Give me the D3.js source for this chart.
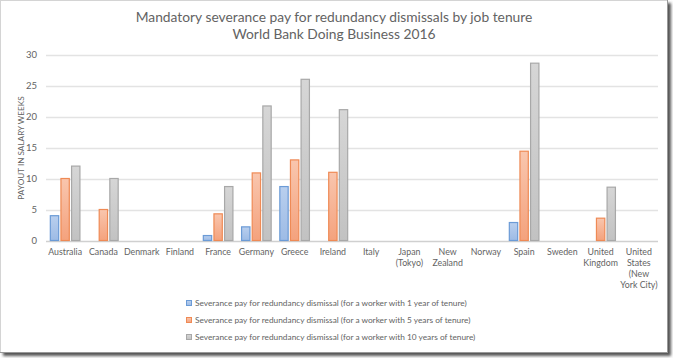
<!DOCTYPE html>
<html><head><meta charset="utf-8">
<script src="https://cdn.jsdelivr.net/npm/d3@7"></script>
<style>html,body{margin:0;padding:0;background:#fff;}svg{display:block;}</style>
</head><body>
<svg id="chart" width="673" height="358"></svg>
<script>
const categories = ["Australia","Canada","Denmark","Finland","France","Germany","Greece","Ireland","Italy","Japan (Tokyo)","New Zealand","Norway","Spain","Sweden","United Kingdom","United States (New York City)"];
const categoryLines = [["Australia"],["Canada"],["Denmark"],["Finland"],["France"],["Germany"],["Greece"],["Ireland"],["Italy"],["Japan","(Tokyo)"],["New","Zealand"],["Norway"],["Spain"],["Sweden"],["United","Kingdom"],["United","States","(New","York City)"]];
const tenure1 = [4,0,0,0,0.8,2.2,8.7,0,0,0,0,0,2.9,0,0,0];
const tenure5 = [10,5,0,0,4.3,10.9,13,11,0,0,0,0,14.4,0,3.6,0];
const tenure10 = [12,10,0,0,8.7,21.7,26,21.1,0,0,0,0,28.6,0,8.6,0];
const seriesNames = ["Severance pay for redundancy dismissal (for a worker with 1 year of tenure)","Severance pay for redundancy dismissal (for a worker with 5 years of tenure)","Severance pay for redundancy dismissal (for a worker with 10 years of tenure)"];
const yTicks = [0,5,10,15,20,25,30];
const titleLines = ["Mandatory severance pay for redundancy dismissals by job tenure","World Bank Doing Business 2016"];
const yLabel = "PAYOUT IN SALARY WEEKS";

const series = [tenure1, tenure5, tenure10];
const strokes = ["#6b9bd6","#ef8a55","#a8a8a8"];
const fillTop = ["#b9cfee","#f9c6ae","#d6d6d6"];
const fillBot = ["#9dbbe5","#f4a27d","#c2c2c2"];
const font = "Lato, 'Open Sans', sans-serif";
const textCol = "#636363";

const svg = d3.select("#chart");
const defs = svg.append("defs");
const f = defs.append("filter").attr("id","sh").attr("x","-5%").attr("y","-5%").attr("width","110%").attr("height","110%");
f.append("feGaussianBlur").attr("stdDeviation",1.5);
series.forEach((s,i)=>{
  const g = defs.append("linearGradient").attr("id","g"+i).attr("x1",0).attr("y1",0).attr("x2",0).attr("y2",1);
  g.append("stop").attr("offset","0%").attr("stop-color",fillTop[i]);
  g.append("stop").attr("offset","100%").attr("stop-color",fillBot[i]);
});

// frame with shadow
svg.append("rect").attr("x",3).attr("y",3).attr("width",668).attr("height",353).attr("fill","#555").attr("filter","url(#sh)");
svg.append("rect").attr("x",0.5).attr("y",0.5).attr("width",667).attr("height",352).attr("fill","#fff").attr("stroke","#d4d4d4");
svg.append("line").attr("x1",667.5).attr("x2",667.5).attr("y1",0).attr("y2",353).attr("stroke","#999");
svg.append("line").attr("x1",0).attr("x2",668).attr("y1",352.5).attr("y2",352.5).attr("stroke","#999");

const x0 = d3.scaleBand().domain(categories).range([46,658]).paddingInner(0.2).paddingOuter(0.1);
const x1 = d3.scaleBand().domain([0,1,2]).range([0,x0.bandwidth()]).paddingInner(0.12);
const y = d3.scaleLinear().domain([0,30]).range([240.5,54.5]);

// gridlines
svg.append("g").selectAll("line").data(yTicks).join("line")
  .attr("x1",46).attr("x2",658)
  .attr("y1",d=>Math.round(y(d))+0.5).attr("y2",d=>Math.round(y(d))+0.5)
  .attr("stroke",d=>d===0?"#d0d0d0":"#e3e3e3").attr("stroke-width",1.3);

// y axis ticks
const yAxis = d3.axisLeft(y).tickValues(yTicks).tickSize(0).tickPadding(9);
const ya = svg.append("g").attr("transform","translate(46,0)").call(yAxis);
ya.select(".domain").remove();
ya.selectAll("text").attr("fill",textCol).attr("font-family",font).attr("font-size",9.5);

// bars
series.forEach((s,i)=>{
  svg.append("g").selectAll("rect").data(s.map((v,j)=>({v,c:categories[j]})).filter(d=>d.v>0)).join("rect")
    .attr("x",d=>x0(d.c)+x1(i)+0.5)
    .attr("y",d=>y(d.v))
    .attr("width",x1.bandwidth()-1)
    .attr("height",d=>y(0)-y(d.v))
    .attr("fill","url(#g"+i+")")
    .attr("stroke",strokes[i]).attr("stroke-width",1.2);
});

// category labels
const xl = svg.append("g");
categories.forEach((c,j)=>{
  const t = xl.append("text").attr("x",x0(c)+x0.bandwidth()/2).attr("y",255)
    .attr("text-anchor","middle").attr("fill",textCol).attr("font-family",font).attr("font-size",8.8);
  categoryLines[j].forEach((ln,k)=>{
    t.append("tspan").attr("x",x0(c)+x0.bandwidth()/2).attr("dy",k===0?0:11).text(ln);
  });
});

// title
titleLines.forEach((tl,i)=>{
  svg.append("text").attr("x",334).attr("y",22+i*17).attr("text-anchor","middle")
    .attr("fill",textCol).attr("font-family",font).attr("font-size",13.8).text(tl);
});

// y label
svg.append("text").attr("transform","translate(24,148) rotate(-90)").attr("text-anchor","middle")
  .attr("fill",textCol).attr("font-family",font).attr("font-size",8.2).text(yLabel);

// legend
seriesNames.forEach((n,i)=>{
  const ly = 303 + i*17;
  svg.append("rect").attr("x",186.5).attr("y",ly-2.5).attr("width",5).attr("height",5)
    .attr("fill","url(#g"+i+")").attr("stroke",strokes[i]).attr("stroke-width",1);
  svg.append("text").attr("x",195).attr("y",ly+3).attr("fill",textCol).attr("font-family",font)
    .attr("font-size",8.3).text(n);
});
</script>
</body></html>
